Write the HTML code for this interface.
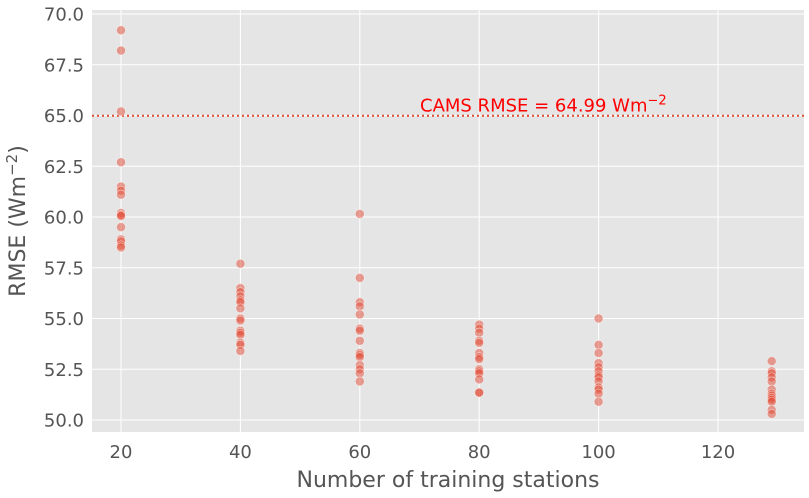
<!DOCTYPE html>
<html><head><meta charset="utf-8"><style>
body{margin:0;background:#fff;}
svg{display:block;font-family:"DejaVu Sans","Liberation Sans",sans-serif;}
</style></head><body>
<svg id="chart" width="809" height="498"></svg>
<script>
const xCategories=[20,40,60,80,100,129];
const seriesValues=[
[69.2,68.2,65.2,62.7,61.5,61.3,61.1,60.2,60.1,60.05,59.5,58.9,58.8,58.6,58.5],
[57.7,56.5,56.3,56.1,55.9,55.8,55.5,55.0,54.9,54.4,54.3,54.2,53.8,53.7,53.4],
[60.15,57.0,55.8,55.6,55.2,54.5,54.4,53.9,53.3,53.2,53.1,52.7,52.5,52.3,51.9],
[54.7,54.5,54.3,53.9,53.8,53.3,53.1,53.0,52.5,52.4,52.3,52.0,51.35,51.35],
[55.0,53.7,53.3,52.8,52.6,52.4,52.2,52.1,51.9,51.6,51.5,51.3,50.9],
[52.9,52.4,52.3,52.1,51.9,51.5,51.3,51.2,51.1,51.0,50.9,50.5,50.3]];
const camsValue=64.99;
const yTicks=[50.0,52.5,55.0,57.5,60.0,62.5,65.0,67.5,70.0];
const xTicks=[20,40,60,80,100,120];
const NS='http://www.w3.org/2000/svg';
const svg=document.getElementById('chart');
const L=92,R=804,T=10,B=432;
const xs=v=>121+(v-20)*5.97;
const ys=v=>420-(v-50)*20.3;
function mk(t,a,p){const e=document.createElementNS(NS,t);for(const k in a)e.setAttribute(k,a[k]);(p||svg).appendChild(e);return e;}
const bg=mk('rect',{x:L,y:T,width:R-L,height:B-T,fill:'#E5E5E5'});


yTicks.forEach(v=>{
 const g=mk('line',{x1:L,x2:R,y1:ys(v),y2:ys(v),stroke:'#fff','stroke-width':1});
 
 
 const t=mk('text',{x:L-8,y:ys(v)+6.5,'text-anchor':'end','font-size':18,fill:'#555'});
 t.textContent=v.toFixed(1);
 
 
});
xTicks.forEach(v=>{
 const g=mk('line',{x1:xs(v),x2:xs(v),y1:T,y2:B,stroke:'#fff','stroke-width':1});
 
 
 const t=mk('text',{x:xs(v),y:B+26,'text-anchor':'middle','font-size':18,fill:'#555'});
 t.textContent=v;
 
 
});
const cl=mk('line',{x1:L,x2:R,y1:ys(camsValue),y2:ys(camsValue),stroke:'#E24A33','stroke-width':2,'stroke-dasharray':'2,3'});


seriesValues.forEach((arr,i)=>arr.forEach(v=>{
 const c=mk('circle',{cx:xs(xCategories[i]),cy:ys(v),r:4.5,fill:'rgba(226,74,51,0.5)',stroke:'rgba(255,255,255,0.5)','stroke-width':0.8});
 
 
}));
const ct=mk('text',{x:420,y:ys(camsValue)-4,'font-size':18,fill:'red'});
ct.innerHTML='CAMS RMSE = '+camsValue.toFixed(2)+' Wm<tspan dy="-7" font-size="13">−2</tspan>';


const xl=mk('text',{x:(L+R)/2,y:487,'text-anchor':'middle','font-size':22,fill:'#555'});
xl.textContent='Number of training stations';


const yl=mk('text',{transform:'translate(25,221) rotate(-90)','text-anchor':'middle','font-size':22,fill:'#555'});
yl.innerHTML='RMSE (Wm<tspan dy="-8" font-size="15">−2</tspan><tspan dy="8">)</tspan>';


</script>
</body></html>
